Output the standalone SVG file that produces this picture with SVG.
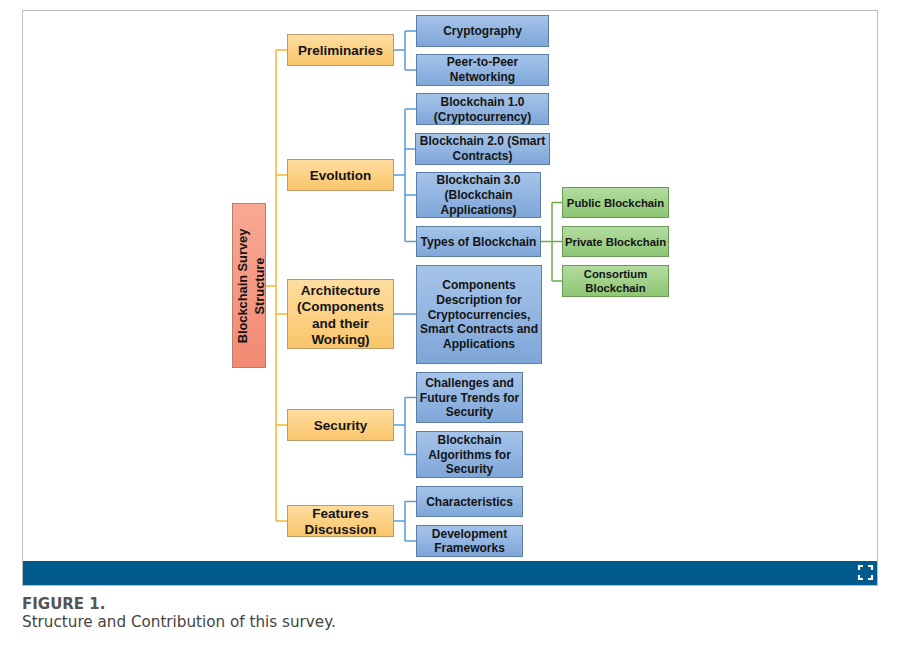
<svg xmlns="http://www.w3.org/2000/svg" width="897" height="650" viewBox="0 0 897 650">
<defs>
<linearGradient id="gOr" x1="0" y1="0" x2="0" y2="1"><stop offset="0" stop-color="#fedda0"/><stop offset="1" stop-color="#f9c56a"/></linearGradient>
<linearGradient id="gBl" x1="0" y1="0" x2="0" y2="1"><stop offset="0" stop-color="#a6c4ea"/><stop offset="1" stop-color="#7ea6d8"/></linearGradient>
<linearGradient id="gGr" x1="0" y1="0" x2="0" y2="1"><stop offset="0" stop-color="#b3dca0"/><stop offset="1" stop-color="#8dc672"/></linearGradient>
<linearGradient id="gPk" x1="0" y1="0" x2="0" y2="1"><stop offset="0" stop-color="#f9a894"/><stop offset="1" stop-color="#f28a72"/></linearGradient>
<style>
.t{font-family:"Liberation Sans",Arial,sans-serif;font-weight:bold;fill:#141414;text-anchor:middle}
.o{fill:url(#gOr);stroke:#b99b6b;stroke-width:1}
.b{fill:url(#gBl);stroke:#5d7ea4;stroke-width:1}
.g{fill:url(#gGr);stroke:#6c9a55;stroke-width:1}
.p{fill:url(#gPk);stroke:#b5806f;stroke-width:1}
.to{font-size:13.5px}
.tb{font-size:12px}
.tg{font-size:11.3px}
.co{stroke:#f7b52c;stroke-width:1.5;fill:none}
.cb{stroke:#5b9bd5;stroke-width:1.5;fill:none}
.cg{stroke:#70ad47;stroke-width:1.5;fill:none}
.cap{font-family:"DejaVu Sans",Verdana,sans-serif}
</style>
</defs>
<rect x="0" y="0" width="897" height="650" fill="#ffffff"/>
<rect x="22.5" y="10.5" width="855" height="575" fill="#ffffff" stroke="#bdbdbd" stroke-width="1"/>
<rect x="23" y="561" width="854" height="24" fill="#005a8c"/>
<g fill="none" stroke="#ffffff" stroke-width="2.2">
<path d="M859,570 V566 H863 M868,566 H872 V570 M872,575 V579 H868 M863,579 H859 V575"/>
</g>
<text class="cap" x="22" y="609" font-size="15" font-weight="bold" fill="#555555">FIGURE 1.</text>
<text class="cap" x="22" y="627" font-size="15.2" fill="#444444">Structure and Contribution of this survey.</text>

<g id="connectors">
<path class="co" d="M266,286 H276 M276,50 V521 M276,50 H287 M276,175 H287 M276,314 H287 M276,425 H287 M276,521 H287"/>
<path class="cb" d="M394,50 H405 M405,31 V70 M405,31 H416 M405,70 H416"/>
<path class="cb" d="M394,175 H405 M405,109 V241.5 M405,109 H416 M405,149 H415 M405,195 H416 M405,241.5 H416"/>
<path class="cb" d="M394,314 H416"/>
<path class="cb" d="M394,425 H405 M405,397.5 V454.5 M405,397.5 H416 M405,454.5 H416"/>
<path class="cb" d="M394,521 H405 M405,501.5 V541 M405,501.5 H416 M405,541 H416"/>
<path class="cg" d="M541,241.5 H562 M552,202.5 V281 M552,202.5 H562 M552,281 H562"/>
</g>

<g id="root">
<rect class="p" x="232.5" y="203.5" width="33" height="164"/>
<g transform="translate(249,286) rotate(-90)">
<text class="t" x="0" y="-2" font-size="12.8px">Blockchain Survey</text>
<text class="t" x="0" y="15" font-size="12.8px">Structure</text>
</g>
</g>

<g id="preliminaries"><rect class="o" x="287.5" y="34.5" width="106" height="31"/><text class="t to" x="340.5" y="54.5">Preliminaries</text></g>
<g id="evolution"><rect class="o" x="287.5" y="159.5" width="106" height="31"/><text class="t to" x="340.5" y="179.5">Evolution</text></g>
<g id="architecture"><rect class="o" x="287.5" y="279.5" width="106" height="69"/>
<text class="t to" x="340.5" y="294.5">Architecture</text><text class="t to" x="340.5" y="311">(Components</text><text class="t to" x="340.5" y="327.5">and their</text><text class="t to" x="340.5" y="344">Working)</text></g>
<g id="security"><rect class="o" x="287.5" y="409.5" width="106" height="31"/><text class="t to" x="340.5" y="429.5">Security</text></g>
<g id="features"><rect class="o" x="287.5" y="505.5" width="106" height="31"/><text class="t to" x="340.5" y="518">Features</text><text class="t to" x="340.5" y="534">Discussion</text></g>

<g id="cryptography"><rect class="b" x="416.5" y="15.5" width="132" height="31"/><text class="t tb" x="482.5" y="35">Cryptography</text></g>
<g id="p2p"><rect class="b" x="416.5" y="54.5" width="132" height="31"/><text class="t tb" x="482.5" y="66">Peer-to-Peer</text><text class="t tb" x="482.5" y="80.5">Networking</text></g>
<g id="bc1"><rect class="b" x="416.5" y="93.5" width="132" height="31"/><text class="t tb" x="482.5" y="105.5">Blockchain 1.0</text><text class="t tb" x="482.5" y="120.5">(Cryptocurrency)</text></g>
<g id="bc2"><rect class="b" x="415.5" y="133.5" width="134" height="31"/><text class="t tb" x="482.5" y="145">Blockchain 2.0 (Smart</text><text class="t tb" x="482.5" y="160">Contracts)</text></g>
<g id="bc3"><rect class="b" x="416.5" y="172.5" width="124" height="45"/><text class="t tb" x="478.5" y="184">Blockchain 3.0</text><text class="t tb" x="478.5" y="199">(Blockchain</text><text class="t tb" x="478.5" y="214">Applications)</text></g>
<g id="types"><rect class="b" x="416.5" y="226.5" width="124" height="30"/><text class="t tb" x="478.5" y="245.5">Types of Blockchain</text></g>
<g id="components"><rect class="b" x="416.5" y="265.5" width="125" height="98"/>
<text class="t tb" x="479" y="289">Components</text><text class="t tb" x="479" y="304">Description for</text><text class="t tb" x="479" y="318.5">Cryptocurrencies,</text><text class="t tb" x="479" y="333">Smart Contracts and</text><text class="t tb" x="479" y="348">Applications</text></g>
<g id="challenges"><rect class="b" x="416.5" y="372.5" width="106" height="50"/><text class="t tb" x="469.5" y="387">Challenges and</text><text class="t tb" x="469.5" y="401.5">Future Trends for</text><text class="t tb" x="469.5" y="416">Security</text></g>
<g id="algorithms"><rect class="b" x="416.5" y="431.5" width="106" height="46"/><text class="t tb" x="469.5" y="444">Blockchain</text><text class="t tb" x="469.5" y="459">Algorithms for</text><text class="t tb" x="469.5" y="473">Security</text></g>
<g id="characteristics"><rect class="b" x="416.5" y="486.5" width="106" height="30"/><text class="t tb" x="469.5" y="505.5">Characteristics</text></g>
<g id="frameworks"><rect class="b" x="416.5" y="525.5" width="106" height="31"/><text class="t tb" x="469.5" y="538">Development</text><text class="t tb" x="469.5" y="552">Frameworks</text></g>

<g id="public"><rect class="g" x="562.5" y="187.5" width="106" height="30"/><text class="t tg" x="615.5" y="206.5">Public Blockchain</text></g>
<g id="private"><rect class="g" x="562.5" y="226.5" width="106" height="30"/><text class="t tg" x="615.5" y="245.5">Private Blockchain</text></g>
<g id="consortium"><rect class="g" x="562.5" y="265.5" width="106" height="31"/><text class="t tg" x="615.5" y="277.5">Consortium</text><text class="t tg" x="615.5" y="291.5">Blockchain</text></g>
</svg>
